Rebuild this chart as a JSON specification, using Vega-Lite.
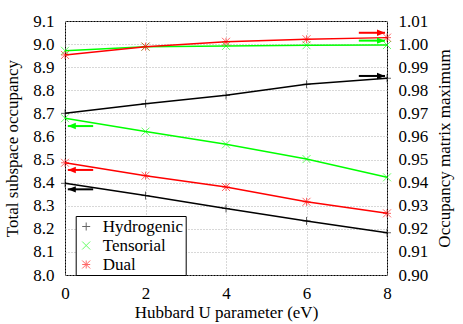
{
  "$schema": "https://vega.github.io/schema/vega-lite/v6.json",
  "width": 322,
  "height": 254,
  "autosize": {"type": "none"},
  "padding": {"left": 65, "top": 21, "right": 76, "bottom": 49},
  "config": {
    "font": "Liberation Serif",
    "style": {"guide-label": {"font": "Liberation Serif, DejaVu Serif, serif", "fontSize": 17, "fill": "black"}, "guide-title": {"font": "Liberation Serif", "fontSize": 17, "fill": "black"}},
    "view": {"stroke": "black", "strokeWidth": 1},
    "axis": {"labelFont": "Liberation Serif, DejaVu Serif, serif", "titleFont": "Liberation Serif", "labelFontSize": 17, "titleFontSize": 17, "titleFontWeight": "normal", "labelColor": "black", "titleColor": "black", "ticks": false, "domain": false, "labelPadding": 11, "labelOverlap": false, "labelFlush": false, "gridColor": "#b0b0b0", "gridDash": [1, 2], "gridWidth": 1},
    "legend": {"orient": "none", "legendX": 10.7, "legendY": 195, "labelFont": "Liberation Serif", "labelFontSize": 17, "labelColor": "black", "labelOffset": 8, "strokeColor": "black", "fillColor": "white", "padding": 2, "rowPadding": 1, "symbolStrokeWidth": 1, "symbolSize": 64, "symbolOpacity": 0.6}
  },
  "datasets": {
    "pts": [
      {"series": "Hydrogenic", "axis": "left", "U": 0, "value": 8.397},
      {"series": "Hydrogenic", "axis": "left", "U": 2, "value": 8.344},
      {"series": "Hydrogenic", "axis": "left", "U": 4, "value": 8.288},
      {"series": "Hydrogenic", "axis": "left", "U": 6, "value": 8.234},
      {"series": "Hydrogenic", "axis": "left", "U": 8, "value": 8.183},
      {"series": "Tensorial", "axis": "left", "U": 0, "value": 8.679},
      {"series": "Tensorial", "axis": "left", "U": 2, "value": 8.621},
      {"series": "Tensorial", "axis": "left", "U": 4, "value": 8.566},
      {"series": "Tensorial", "axis": "left", "U": 6, "value": 8.502},
      {"series": "Tensorial", "axis": "left", "U": 8, "value": 8.423},
      {"series": "Dual", "axis": "left", "U": 0, "value": 8.486},
      {"series": "Dual", "axis": "left", "U": 2, "value": 8.43},
      {"series": "Dual", "axis": "left", "U": 4, "value": 8.381},
      {"series": "Dual", "axis": "left", "U": 6, "value": 8.317},
      {"series": "Dual", "axis": "left", "U": 8, "value": 8.267},
      {"series": "Hydrogenic", "axis": "right", "U": 0, "value": 0.97},
      {"series": "Hydrogenic", "axis": "right", "U": 2, "value": 0.9742},
      {"series": "Hydrogenic", "axis": "right", "U": 4, "value": 0.9778},
      {"series": "Hydrogenic", "axis": "right", "U": 6, "value": 0.9826},
      {"series": "Hydrogenic", "axis": "right", "U": 8, "value": 0.9852},
      {"series": "Tensorial", "axis": "right", "U": 0, "value": 0.9971},
      {"series": "Tensorial", "axis": "right", "U": 2, "value": 0.9989},
      {"series": "Tensorial", "axis": "right", "U": 4, "value": 0.9992},
      {"series": "Tensorial", "axis": "right", "U": 6, "value": 0.9995},
      {"series": "Tensorial", "axis": "right", "U": 8, "value": 0.9996},
      {"series": "Dual", "axis": "right", "U": 0, "value": 0.9953},
      {"series": "Dual", "axis": "right", "U": 2, "value": 0.9989},
      {"series": "Dual", "axis": "right", "U": 4, "value": 1.001},
      {"series": "Dual", "axis": "right", "U": 6, "value": 1.0021},
      {"series": "Dual", "axis": "right", "U": 8, "value": 1.0028}
    ],
    "arrows": [
      {"series": "Hydrogenic", "aseries": "Hydrogenic", "axis": "left", "U": 0.07, "U2": 0.7, "value": 8.371},
      {"series": "Tensorial", "aseries": "Tensorial", "axis": "left", "U": 0.07, "U2": 0.7, "value": 8.645},
      {"series": "Dual", "aseries": "Dual", "axis": "left", "U": 0.07, "U2": 0.7, "value": 8.455},
      {"series": "Hydrogenic", "aseries": "Hydrogenic", "axis": "right", "U": 7.95, "U2": 7.3, "value": 0.9862},
      {"series": "Tensorial", "aseries": "Tensorial", "axis": "right", "U": 7.95, "U2": 7.3, "value": 1.0015},
      {"series": "Dual", "aseries": "Dual", "axis": "right", "U": 7.95, "U2": 7.3, "value": 1.0049}
    ]
  },
  "encoding": {
    "x": {"field": "U", "type": "quantitative", "scale": {"domain": [0, 8]}, "axis": {"values": [0, 2, 4, 6, 8], "grid": true, "title": "Hubbard U parameter (eV)", "titlePadding": 3, "labelPadding": 10}}
  },
  "layer": [
    {
      "encoding": {
        "y": {"field": "value", "type": "quantitative", "scale": {"domain": [8.0, 9.1], "zero": false, "nice": false}, "axis": {"orient": "left", "values": [8.0, 8.1, 8.2, 8.3, 8.4, 8.5, 8.6, 8.7, 8.8, 8.9, 9.0, 9.1], "format": ".1f", "grid": true, "title": "Total subspace occupancy", "titlePadding": 11}}
      },
      "layer": [
        {
          "data": {"name": "pts"},
          "transform": [{"filter": "datum.axis === 'left'"}],
          "mark": {"type": "line", "strokeWidth": 1.5},
          "encoding": {
            "stroke": {"field": "series", "type": "nominal", "title": null, "scale": {"domain": ["Hydrogenic", "Tensorial", "Dual"], "range": ["#000000", "#00ff00", "#ff0000"]}}
          }
        },
        {
          "data": {"name": "pts"},
          "transform": [{"filter": "datum.axis === 'left'"}],
          "mark": {"type": "point", "filled": false, "strokeWidth": 1, "size": 64, "opacity": 0.6},
          "encoding": {
            "shape": {"field": "series", "type": "nominal", "title": null, "scale": {"domain": ["Hydrogenic", "Tensorial", "Dual"], "range": ["M-1,0L1,0M0,-1L0,1", "M-1,-1L1,1M-1,1L1,-1", "M-1,0L1,0M0,-1L0,1M-1,-1L1,1M-1,1L1,-1"]}},
            "stroke": {"field": "series", "type": "nominal", "title": null}
          }
        },
        {
          "data": {"name": "arrows"},
          "transform": [{"filter": "datum.axis === 'left'"}],
          "mark": {"type": "rule", "strokeWidth": 2},
          "encoding": {
            "x2": {"field": "U2"},
            "stroke": {"field": "series", "type": "nominal", "title": null}
          }
        },
        {
          "data": {"name": "arrows"},
          "transform": [{"filter": "datum.axis === 'left'"}],
          "mark": {"type": "point", "filled": true, "opacity": 1, "size": 64, "shape": "M0,0L2,-0.8L2,0.8Z"},
          "encoding": {
            "fill": {"field": "aseries", "type": "nominal", "scale": {"range": ["#ff0000", "#000000", "#00ff00"]}, "legend": null}
          }
        }
      ]
    },
    {
      "encoding": {
        "y": {"field": "value", "type": "quantitative", "scale": {"domain": [0.9, 1.01], "zero": false, "nice": false}, "axis": {"orient": "right", "values": [0.9, 0.91, 0.92, 0.93, 0.94, 0.95, 0.96, 0.97, 0.98, 0.99, 1.0, 1.01], "format": ".2f", "grid": false, "title": "Occupancy matrix maximum", "titleAngle": -90, "titleBaseline": "top", "titlePadding": 9}}
      },
      "layer": [
        {
          "data": {"name": "pts"},
          "transform": [{"filter": "datum.axis === 'right'"}],
          "mark": {"type": "line", "strokeWidth": 1.5},
          "encoding": {
            "stroke": {"field": "series", "type": "nominal", "title": null}
          }
        },
        {
          "data": {"name": "pts"},
          "transform": [{"filter": "datum.axis === 'right'"}],
          "mark": {"type": "point", "filled": false, "strokeWidth": 1, "size": 64, "opacity": 0.6},
          "encoding": {
            "shape": {"field": "series", "type": "nominal", "title": null},
            "stroke": {"field": "series", "type": "nominal", "title": null}
          }
        },
        {
          "data": {"name": "arrows"},
          "transform": [{"filter": "datum.axis === 'right'"}],
          "mark": {"type": "rule", "strokeWidth": 2},
          "encoding": {
            "x2": {"field": "U2"},
            "stroke": {"field": "series", "type": "nominal", "title": null}
          }
        },
        {
          "data": {"name": "arrows"},
          "transform": [{"filter": "datum.axis === 'right'"}],
          "mark": {"type": "point", "filled": true, "opacity": 1, "size": 64, "shape": "M0,0L-2,-0.8L-2,0.8Z"},
          "encoding": {
            "fill": {"field": "aseries", "type": "nominal", "legend": null}
          }
        }
      ]
    }
  ],
  "resolve": {"scale": {"y": "independent"}}
}
